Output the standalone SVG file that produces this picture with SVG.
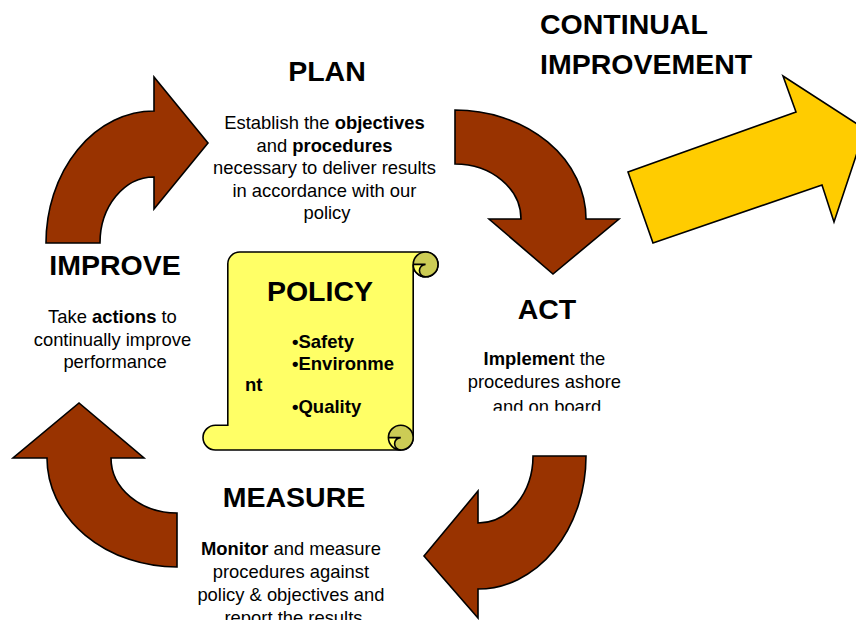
<svg xmlns="http://www.w3.org/2000/svg" width="856" height="620" viewBox="0 0 856 620">
  <style>
    .cycle { fill: #993300; stroke: #000; stroke-width: 1.6; stroke-linejoin: miter; }
    .big { fill: #FFCC00; stroke: #000; stroke-width: 1.6; }
    .paper { fill: #FFFF66; stroke: #000; stroke-width: 1.6; }
    .curl { fill: #CCCC55; stroke: none; }
    .line { fill: none; stroke: #000; stroke-width: 1.6; }
    .title { font-family: "Liberation Sans", Arial, sans-serif; font-weight: bold; font-size: 28.5px; fill: #000; }
    .body { font-family: "Liberation Sans", Arial, sans-serif; font-size: 18.4px; fill: #000; }
    .bullets { font-family: "Liberation Sans", Arial, sans-serif; font-weight: bold; font-size: 18.5px; fill: #000; }
    .b { font-weight: bold; }
  </style>
  <defs>
    <clipPath id="act-box">
      <rect x="440" y="280" width="220" height="130.7"/>
    </clipPath>
  </defs>
  <rect width="856" height="620" fill="#fff"/>

  <!-- cycle arrows -->
  <g id="connectors">
    <!-- improve to plan -->
    <path class="cycle" d="M46,243 A108,132 0 0 1 154,111 V77 L208,143 L154,209 V177 A54,66 0 0 0 100,243 Z"/>
    <!-- plan to act -->
    <path class="cycle" d="M455,110 A131,109 0 0 1 586,219 H619 L553,274 L489,219 H521 A66,55 0 0 0 455,164 Z"/>
    <!-- act to measure -->
    <path class="cycle" d="M586,456 A108,133 0 0 1 478,589 V618 L424,556 L478,491 V523 A55,67 0 0 0 533,456 Z"/>
    <!-- measure to improve -->
    <path class="cycle" d="M177,567 A130,109 0 0 1 47,458 H13 L79,403 L144,458 H111 A66,55 0 0 0 177,513 Z"/>
    <!-- continual improvement -->
    <path class="big" d="M653,243 L628,172 L796,112 L783,76 L865,129 L834,222 L822,185 Z"/>
  </g>

  <g id="continual">
    <text class="title" x="540" y="33.5">CONTINUAL</text>
    <text class="title" x="540" y="73.5">IMPROVEMENT</text>
  </g>

  <g id="plan">
    <text class="title" x="327" y="81" text-anchor="middle">PLAN</text>
    <text class="body" text-anchor="middle">
      <tspan x="327" y="129">Establish the <tspan class="b">objectives</tspan></tspan>
      <tspan x="327" y="151.5">and <tspan class="b">procedures</tspan></tspan>
      <tspan x="327" y="174">necessary to deliver results</tspan>
      <tspan x="327" y="196.5">in accordance with our</tspan>
      <tspan x="327" y="219">policy</tspan>
    </text>
  </g>

  <g id="improve">
    <text class="title" x="115" y="275" text-anchor="middle">IMPROVE</text>
    <text class="body" text-anchor="middle">
      <tspan x="115" y="323">Take <tspan class="b">actions</tspan> to</tspan>
      <tspan x="115" y="345.5">continually improve</tspan>
      <tspan x="115" y="368">performance</tspan>
    </text>
  </g>

  <g id="act">
    <text class="title" x="547" y="319" text-anchor="middle">ACT</text>
    <text class="body" text-anchor="middle" clip-path="url(#act-box)">
      <tspan x="547" y="365"><tspan class="b">Implemen</tspan>t the</tspan>
      <tspan x="547" y="387.5">procedures ashore</tspan>
      <tspan x="547" y="412.5">and on board</tspan>
    </text>
  </g>

  <g id="measure">
    <text class="title" x="294" y="507" text-anchor="middle">MEASURE</text>
    <text class="body" text-anchor="middle">
      <tspan x="293.5" y="555"><tspan class="b">Monitor</tspan> and measure</tspan>
      <tspan x="293.5" y="578">procedures against</tspan>
      <tspan x="293.5" y="601">policy &amp; objectives and</tspan>
      <tspan x="293.5" y="624">report the results</tspan>
    </text>
  </g>

  <!-- policy scroll -->
  <g id="policy">
    <path class="paper" d="M215.4,450 A12.4,12.4 0 0 1 215.4,425.2 H227.8 V264 A12,12 0 0 1 239.8,252 H425.6 A12.4,12.4 0 0 1 425.6,276.8 A12.4,12.4 0 0 1 413.2,264.4 V437.6 A12.4,12.4 0 0 1 400.8,450 Z"/>
    <!-- top curl -->
    <circle class="curl" cx="425.6" cy="264.4" r="12.4"/>
    <path fill="#FFFF66" d="M413.2,264.4 H425.6 A6.2,6.2 0 0 0 425.6,276.8 A12.4,12.4 0 0 1 413.2,264.4 Z"/>
    <circle class="line" cx="425.6" cy="264.4" r="12.4"/>
    <path class="line" d="M413.2,264.4 H425.6 A6.2,6.2 0 0 0 425.6,276.8"/>
    <!-- bottom curl -->
    <circle class="curl" cx="400.8" cy="437.6" r="12.4"/>
    <path fill="#FFFF66" d="M388.4,437.6 H400.8 A6.2,6.2 0 0 0 400.8,450 A12.4,12.4 0 0 1 388.4,437.6 Z"/>
    <circle class="line" cx="400.8" cy="437.6" r="12.4"/>
    <path class="line" d="M388.4,437.6 H400.8 A6.2,6.2 0 0 0 400.8,450"/>

    <text class="title" x="320" y="301" text-anchor="middle">POLICY</text>
    <text class="bullets">
      <tspan x="292" y="348">•Safety</tspan>
      <tspan x="292" y="370">•Environme</tspan>
      <tspan x="245" y="391">nt</tspan>
      <tspan x="292" y="413">•Quality</tspan>
    </text>
  </g>
</svg>
